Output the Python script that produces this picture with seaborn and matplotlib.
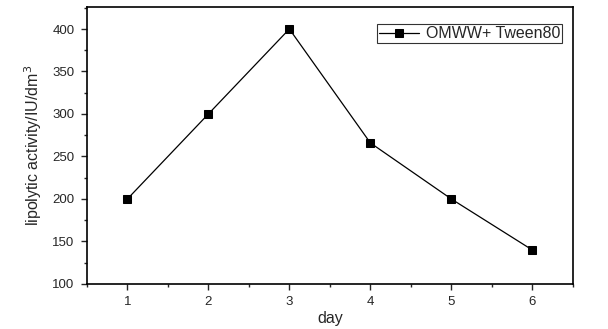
import matplotlib
matplotlib.use("Agg")
import matplotlib.pyplot as plt
from matplotlib.ticker import MultipleLocator
import seaborn as sns
import pandas as pd

days = [1, 2, 3, 4, 5, 6]
activity = [200, 300, 400, 266, 200, 140]
series_name = "OMWW+ Tween80"

sns.set_style("ticks")
plt.rcParams["font.family"] = ["Liberation Sans", "DejaVu Sans"]

df = pd.DataFrame({"day": days, "activity": activity})

fig = plt.figure(figsize=(6.08, 3.29), dpi=100)
ax = fig.add_axes([0.143, 0.137, 0.799, 0.842])

sns.lineplot(data=df, x="day", y="activity", ax=ax, color="black", lw=0.9,
             marker="s", markersize=6, markeredgecolor="black",
             markerfacecolor="black", label=series_name)

ax.set_xlim(0.5, 6.5)
ax.set_ylim(100, 426)
ax.xaxis.set_major_locator(MultipleLocator(1))
ax.xaxis.set_minor_locator(MultipleLocator(0.5))
ax.yaxis.set_major_locator(MultipleLocator(50))
ax.yaxis.set_minor_locator(MultipleLocator(25))
ax.tick_params(which="major", direction="out", length=4, width=1, labelsize=9.5,
               top=False, right=False, pad=5)
ax.tick_params(which="minor", direction="out", length=2.5, width=1,
               top=False, right=False)
for s in ax.spines.values():
    s.set_linewidth(1.2)
    s.set_color("black")

ax.set_xlabel("day", fontsize=11.5, labelpad=2)
ax.set_ylabel("lipolytic activity/IU/dm$^3$", fontsize=11.5, labelpad=6,
              family=["Liberation Sans Narrow", "Liberation Sans", "DejaVu Sans"])

leg = ax.legend(loc="upper left", bbox_to_anchor=(0.598, 0.937), frameon=True,
                fancybox=False, edgecolor="black", fontsize=11.5, handlelength=2.5,
                borderpad=0.12, handletextpad=0.4, borderaxespad=0)
leg.get_frame().set_linewidth(0.8)

fig.savefig("out.png", dpi=100)
